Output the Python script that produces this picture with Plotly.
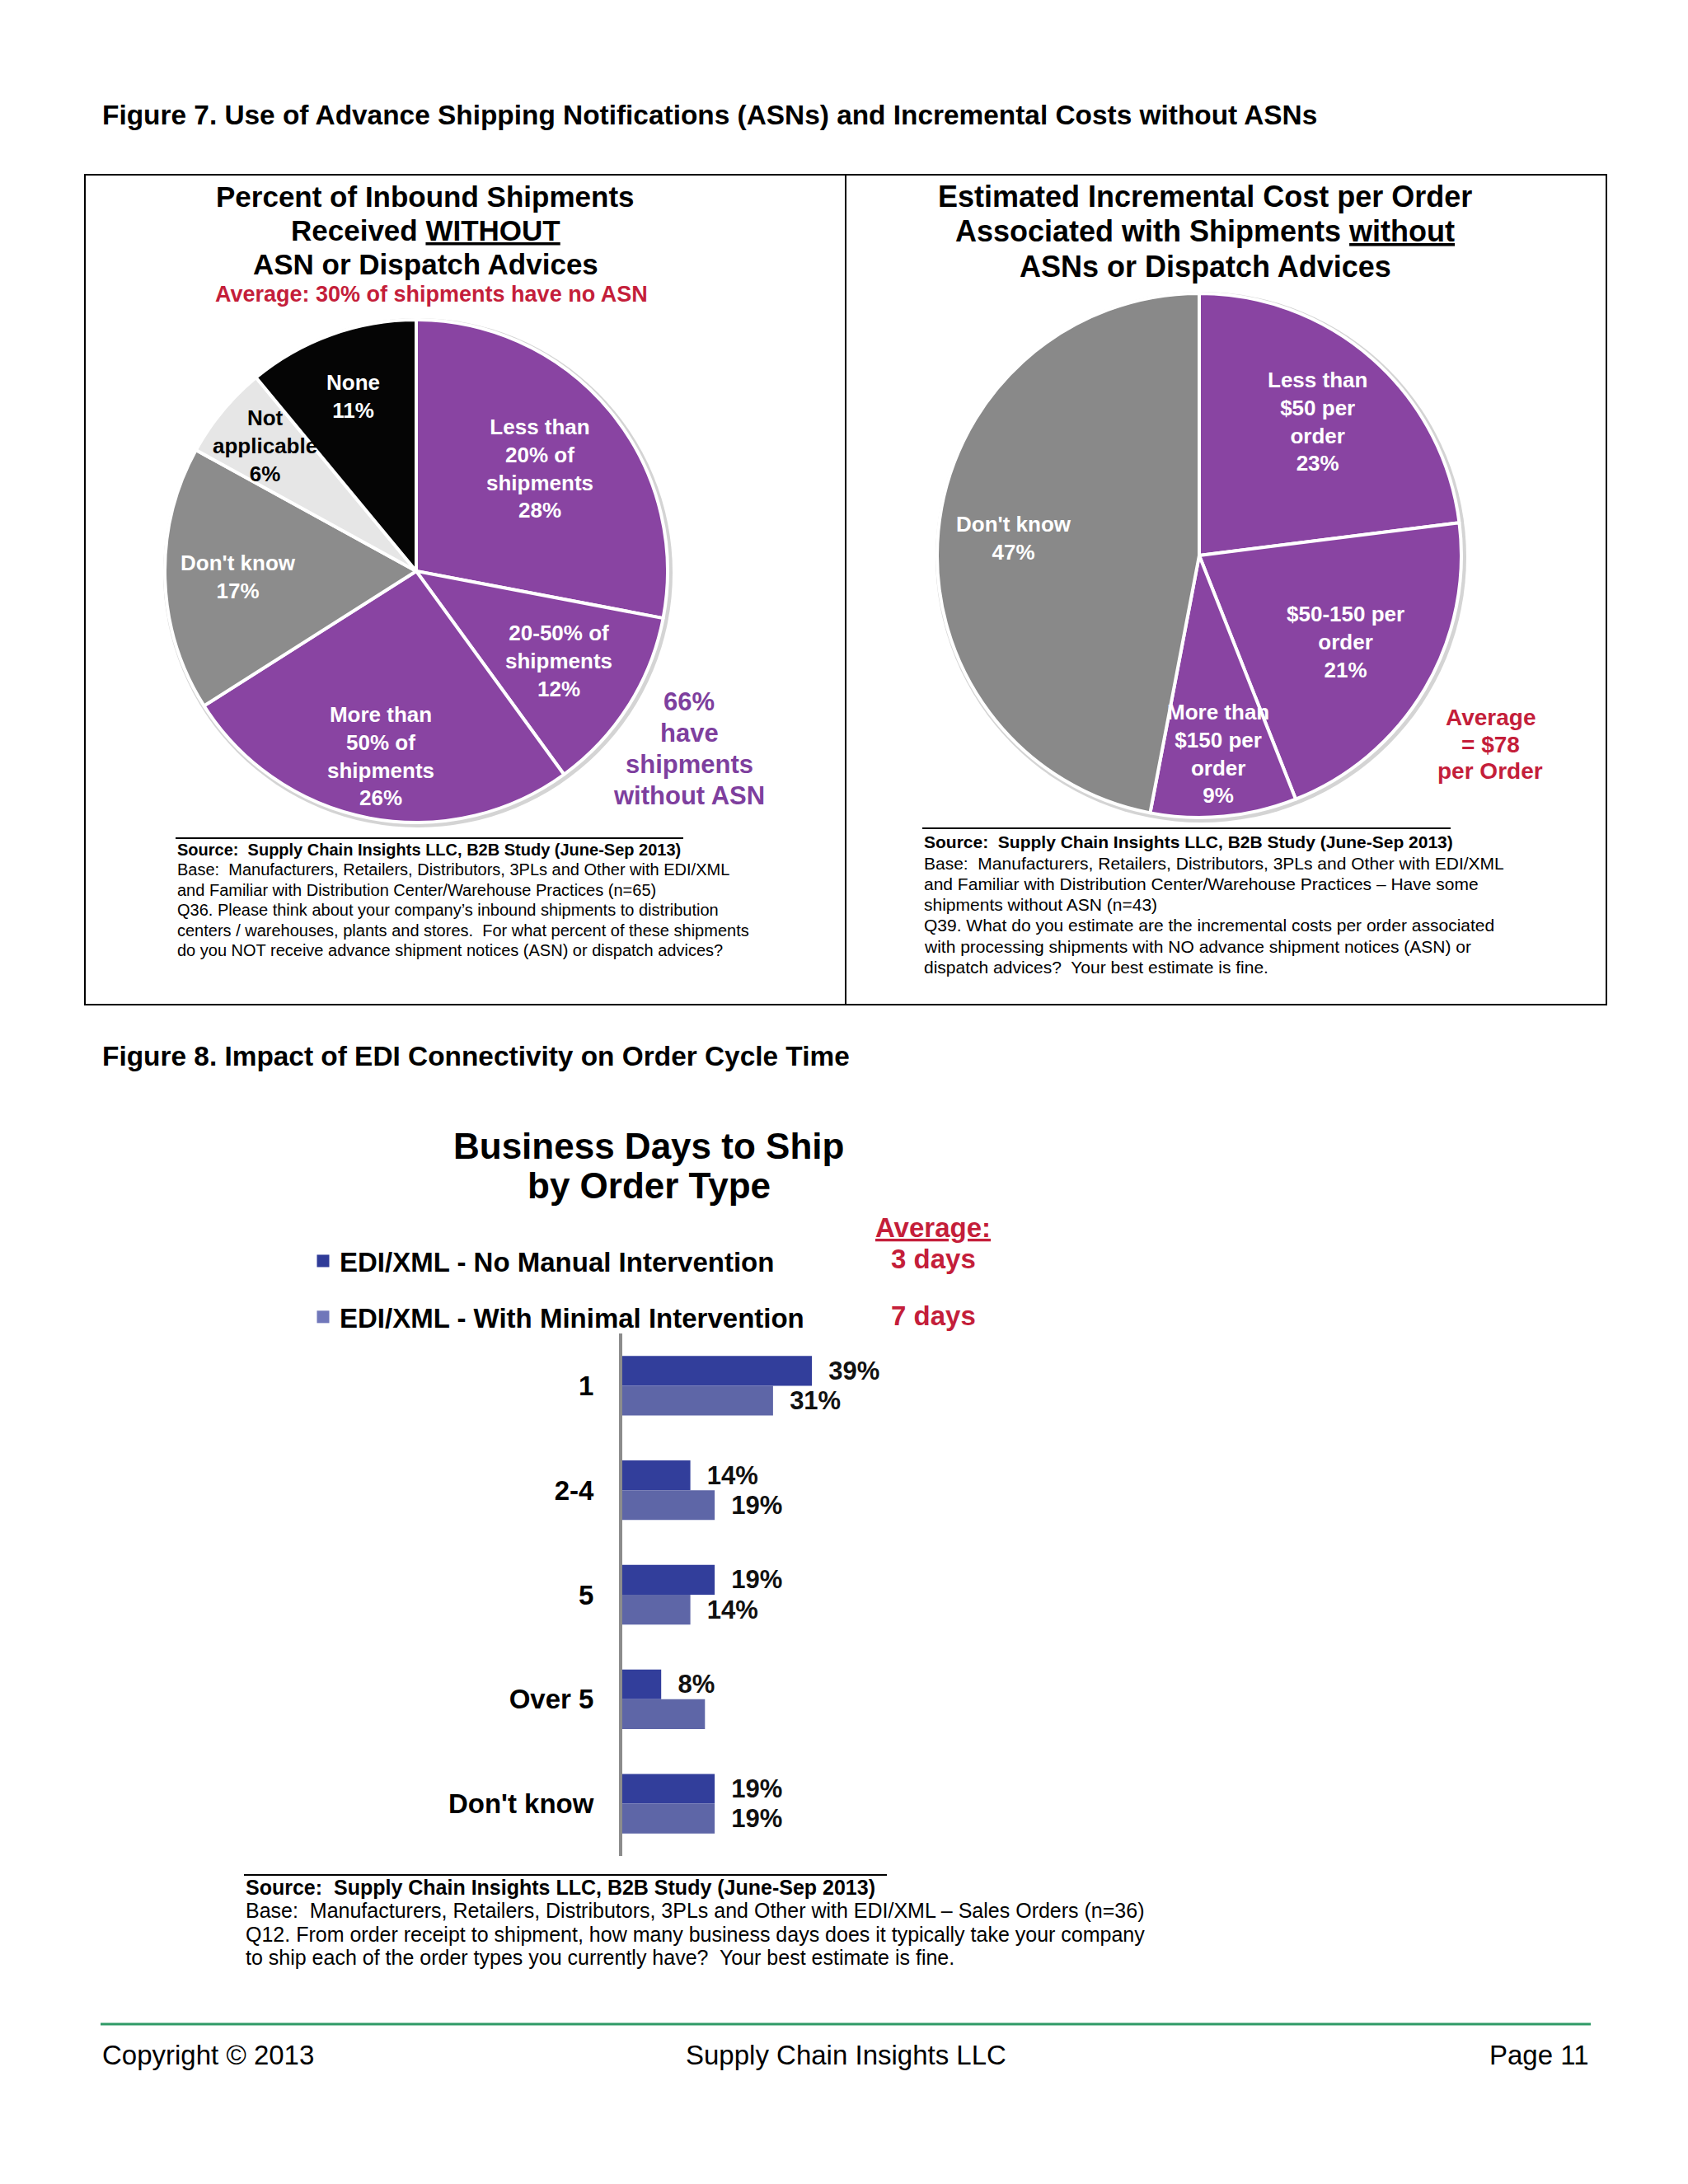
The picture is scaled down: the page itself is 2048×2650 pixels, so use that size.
import math
import plotly.graph_objects as go

# ---------------- data ----------------
asn_categories = ["Less than<br>20% of<br>shipments", "20-50% of<br>shipments",
                  "More than<br>50% of<br>shipments", "Don't know", "Not<br>applicable", "None"]
asn_shares = [28, 12, 26, 17, 6, 11]

cost_categories = ["Less than<br>$50 per<br>order", "$50-150 per<br>order",
                   "More than<br>$150 per<br>order", "Don't know"]
cost_shares = [23, 21, 9, 47]

ship_days = ["1", "2-4", "5", "Over 5", "Don't know"]
no_manual = [39, 14, 19, 8, 19]
minimal = [31, 19, 14, 17, 19]
minimal_label_shown = [True, True, True, False, True]

series_names = ["EDI/XML - No Manual Intervention", "EDI/XML - With Minimal Intervention"]
average_days = ["3 days", "7 days"]

# ---------------- styling ----------------
FONT = "Liberation Sans, Arial, sans-serif"
PURPLE = "#8944A2"
PURPLE_TXT = "#7E3F9E"
RED = "#C41E3A"
DARK_BLUE = "#323E9B"
LIGHT_BLUE = "#5E66A7"
LEGEND_COLORS = ["#2F3B98", "#7077BA"]

# radial placement of the slice labels (fraction of radius), per slice
LABEL_R_ASN = [0.64, 0.67, 0.75, 0.71, 0.78, 0.74]
LABEL_R_COST = [0.68, 0.65, 0.76, 0.71]

W, H, OFF = 2032, 2634, 8


def fx(X):
    return (X - OFF) / W


def fy(Y):
    return 1 - (Y - OFF) / H


fig = go.Figure()
annotations = []
shapes = []


def ann(text, X, Y, size, color="#000000", bold=False, xanchor="center", yanchor="middle", align="center"):
    annotations.append(dict(
        text=text, x=fx(X), y=fy(Y), xref="paper", yref="paper", showarrow=False,
        xanchor=xanchor, yanchor=yanchor, align=align,
        font=dict(family=FONT, size=size, color=color, weight="bold" if bold else "normal"),
    ))


def lines(texts, X, Y0, step, size, **kw):
    for i, t in enumerate(texts):
        ann(t, X, Y0 + i * step, size, **kw)


def add_pie(values, labels, colors, text_colors, cx, cy, R, label_r):
    # soft rim / shadow behind the pie
    shapes.append(dict(type="circle", xref="paper", yref="paper", layer="below",
                       x0=fx(cx - R - 4 + 2), x1=fx(cx + R + 4 + 2),
                       y0=fy(cy + R + 4 + 2), y1=fy(cy - R - 4 + 2),
                       fillcolor="#d4d4d4", line=dict(width=0)))
    fig.add_trace(go.Pie(
        values=values, labels=labels, sort=False, direction="clockwise", rotation=0,
        marker=dict(colors=colors, line=dict(color="white", width=4)),
        textinfo="none", showlegend=False, hoverinfo="label+percent",
        domain=dict(x=[fx(cx - R), fx(cx + R)], y=[fy(cy + R), fy(cy - R)]),
    ))
    total = sum(values)
    cum = 0
    for v, lab, tc, lr in zip(values, labels, text_colors, label_r):
        mid = (cum + v / 2) / total * 2 * math.pi
        cum += v
        X = cx + lr * R * math.sin(mid)
        Y = cy - lr * R * math.cos(mid)
        ann(f"{lab}<br>{v}%", X, Y, 26, color=tc, bold=True)


# ---------------- Figure 7 ----------------
ann("Figure 7. Use of Advance Shipping Notifications (ASNs) and Incremental Costs without ASNs",
    122, 139, 33.4, bold=True, xanchor="left")

shapes.append(dict(type="rect", xref="paper", yref="paper", x0=fx(103), x1=fx(1949),
                   y0=fy(1219), y1=fy(212), line=dict(color="#000000", width=2)))
shapes.append(dict(type="line", xref="paper", yref="paper", x0=fx(1026), x1=fx(1026),
                   y0=fy(1219), y1=fy(212), line=dict(color="#000000", width=2)))

# left panel
lines(["Percent of Inbound Shipments", "Received <u>WITHOUT</u>", "ASN or Dispatch Advices"],
      516, 239, 40.5, 35, bold=True)
ann("Average: 30% of shipments have no ASN", 523, 357, 27, color=RED, bold=True)
add_pie(asn_shares, asn_categories,
        [PURPLE, PURPLE, PURPLE, "#8C8C8C", "#E6E6E6", "#050505"],
        ["white", "white", "white", "white", "#000000", "white"],
        505, 693, 305, LABEL_R_ASN)
lines(["66%", "have", "shipments", "without ASN"], 836, 851, 38, 31, color=PURPLE_TXT, bold=True)

shapes.append(dict(type="line", xref="paper", yref="paper", x0=fx(213), x1=fx(829),
                   y0=fy(1017), y1=fy(1017), line=dict(color="#000000", width=2)))
lines(["<b>Source:\u00a0 Supply Chain Insights LLC, B2B Study (June-Sep 2013)</b>",
       "Base:\u00a0 Manufacturers, Retailers, Distributors, 3PLs and Other with EDI/XML",
       "and Familiar with Distribution Center/Warehouse Practices (n=65)",
       "Q36. Please think about your company\u2019s inbound shipments to distribution",
       "centers / warehouses, plants and stores.\u00a0 For what percent of these shipments",
       "do you NOT receive advance shipment notices (ASN) or dispatch advices?"],
      213, 1031, 24.4, 20, xanchor="left")

# right panel
lines(["Estimated Incremental Cost per Order", "Associated with Shipments <u>without</u>",
       "ASNs or Dispatch Advices"], 1462, 239, 42, 36, bold=True)
add_pie(cost_shares, cost_categories,
        [PURPLE, PURPLE, PURPLE, "#898989"],
        ["white", "white", "white", "white"],
        1455, 674, 318, LABEL_R_COST)
lines(["Average", "= $78", "per Order"], 1808, 870, 33, 28, color=RED, bold=True)

shapes.append(dict(type="line", xref="paper", yref="paper", x0=fx(1119), x1=fx(1760),
                   y0=fy(1005), y1=fy(1005), line=dict(color="#000000", width=2)))
lines(["<b>Source:\u00a0 Supply Chain Insights LLC, B2B Study (June-Sep 2013)</b>",
       "Base:\u00a0 Manufacturers, Retailers, Distributors, 3PLs and Other with EDI/XML",
       "and Familiar with Distribution Center/Warehouse Practices \u2013 Have some",
       "shipments without ASN (n=43)",
       "Q39. What do you estimate are the incremental costs per order associated",
       "with processing shipments with NO advance shipment notices (ASN) or",
       "dispatch advices?\u00a0 Your best estimate is fine."],
      1119, 1022, 25.2, 21, xanchor="left")

# ---------------- Figure 8 ----------------
ann("Figure 8. Impact of EDI Connectivity on Order Cycle Time", 122, 1281, 33.4, bold=True, xanchor="left")
ann("Business Days to Ship", 787, 1390, 44, bold=True)
ann("by Order Type", 787, 1439, 44, bold=True)
ann("<u>Average:</u>", 1132, 1489, 33, color=RED, bold=True)
ann(average_days[0], 1132, 1527, 33, color=RED, bold=True)
ann(average_days[1], 1132, 1596, 33, color=RED, bold=True)

NB = "\u00a0\u00a0"
fig.add_trace(go.Bar(
    y=ship_days, x=no_manual, orientation="h", name=series_names[0],
    marker=dict(color=DARK_BLUE, line=dict(width=0)),
    text=[f"{NB}{v}%" for v in no_manual], textposition="outside", cliponaxis=False,
    textfont=dict(family=FONT, size=31, color="#111111", weight="bold"),
    legendgroup="a", showlegend=False, xaxis="x", yaxis="y",
))
fig.add_trace(go.Bar(
    y=ship_days, x=minimal, orientation="h", name=series_names[1],
    marker=dict(color=LIGHT_BLUE, line=dict(width=0)),
    text=[f"{NB}{v}%" if s else "" for v, s in zip(minimal, minimal_label_shown)],
    textposition="outside", cliponaxis=False,
    textfont=dict(family=FONT, size=31, color="#111111", weight="bold"),
    legendgroup="b", showlegend=False, xaxis="x", yaxis="y",
))
# legend entries (square swatches like the reference)
for name, col, grp in zip(series_names, LEGEND_COLORS, ["a", "b"]):
    fig.add_trace(go.Scatter(
        x=[None], y=[None], mode="markers", name=name, legendgroup=grp,
        marker=dict(symbol="square", size=15, color=col), hoverinfo="skip",
        xaxis="x", yaxis="y",
    ))

shapes.append(dict(type="line", xref="paper", yref="paper", x0=fx(296), x1=fx(1076),
                   y0=fy(2275), y1=fy(2275), line=dict(color="#000000", width=2)))
lines(["<b>Source:\u00a0 Supply Chain Insights LLC, B2B Study (June-Sep 2013)</b>",
       "Base:\u00a0 Manufacturers, Retailers, Distributors, 3PLs and Other with EDI/XML \u2013 Sales Orders (n=36)",
       "Q12. From order receipt to shipment, how many business days does it typically take your company",
       "to ship each of the order types you currently have?\u00a0 Your best estimate is fine."],
      296, 2290, 28.3, 25, xanchor="left")

# footer
shapes.append(dict(type="line", xref="paper", yref="paper", x0=fx(122), x1=fx(1930),
                   y0=fy(2456), y1=fy(2456), line=dict(color="#2F9A66", width=3)))
ann("Copyright \u00a9 2013", 122, 2493, 33, xanchor="left")
ann("Supply Chain Insights LLC", 1026, 2493, 33)
ann("Page 11", 1930, 2493, 33, xanchor="right")

fig.update_layout(
    width=W, height=H, margin=dict(l=0, r=0, t=0, b=0),
    paper_bgcolor="white", plot_bgcolor="rgba(0,0,0,0)",
    font=dict(family=FONT, color="#000000"),
    barmode="group", bargap=0.43, bargroupgap=0,
    xaxis=dict(domain=[fx(755), fx(755 + 5.9 * 100)], range=[0, 100], visible=False, fixedrange=True),
    yaxis=dict(domain=[fy(2252), fy(1618)], type="category", categoryarray=ship_days,
               range=[4.5, -0.5], showline=True, linecolor="#8C8C8C", linewidth=4,
               ticks="", showgrid=False, zeroline=False, ticklabelstandoff=24,
               tickfont=dict(family=FONT, size=33, color="#000000", weight="bold")),
    showlegend=True,
    legend=dict(x=fx(372), y=fy(1502), xanchor="left", yanchor="top", traceorder="grouped",
                tracegroupgap=22, bgcolor="rgba(0,0,0,0)",
                font=dict(family=FONT, size=33, color="#000000", weight="bold")),
    annotations=annotations, shapes=shapes,
)

fig.write_html("out.html")
